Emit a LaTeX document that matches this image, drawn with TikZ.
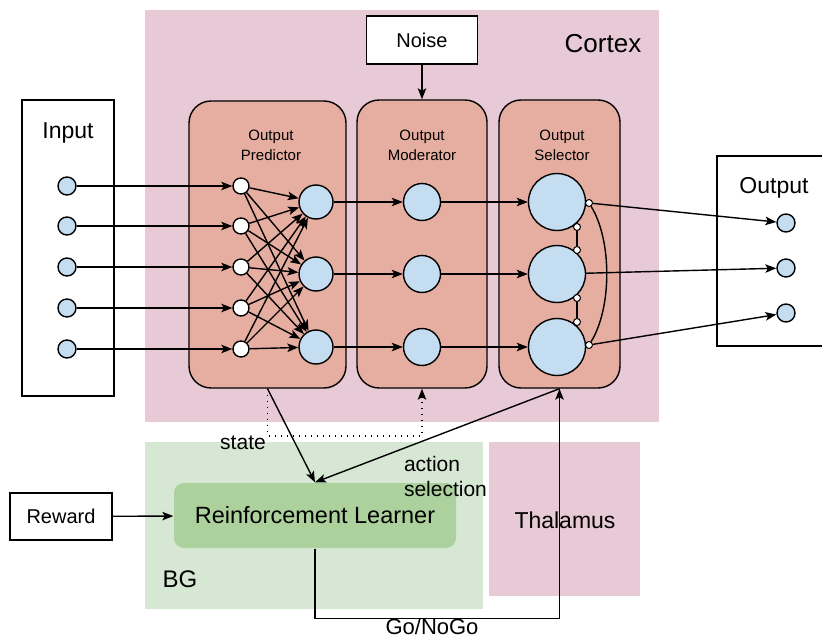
\documentclass[tikz,border=0pt]{standalone}
\usepackage{fontspec}
\setmainfont{Liberation Sans}
\usetikzlibrary{positioning, arrows, arrows.meta, shapes}
\definecolor{cortexpink}{HTML}{E8C9D6}
\definecolor{layersalmon}{HTML}{E6AEA1}
\definecolor{cellblue}{HTML}{C5DDF0}
\definecolor{bggreen}{HTML}{D6E8D4}
\definecolor{learnergreen}{HTML}{ADD19D}
\tikzset{
    >={Stealth[length=11pt, width=8.5pt, inset=2.5pt]}, % bold triangular arrow heads
    txt/.style={font=\fontsize{#1}{#1}\selectfont}, % text size in pixels of the sketch
    io/.style={draw, rectangle, fill=white, inner sep=0pt}, % plain white boxes
    layer/.style={draw, rounded corners=22pt, fill=layersalmon, inner sep=0pt}, % cortical layers
    cell/.style={draw, circle, fill=cellblue, inner sep=0pt, minimum size=#1}, % blue neurons
    relay/.style={draw, circle, fill=white, inner sep=0pt, minimum size=16}, % white input relays
    inhib/.style={draw, circle, fill=white, inner sep=0pt, minimum size=7, line width=1pt}, % inhibitory synapses
    small/.style={font=\fontsize{15}{20}\selectfont, align=center},
}

\begin{document}
\begin{tikzpicture}[x=1pt, y=-1pt, line width=1.4pt, txt=21]
    \useasboundingbox (0,0) rectangle (822,639);

    % brain regions
    \fill[cortexpink] (145,10) rectangle (659,422);
    \fill[bggreen] (145,442) rectangle (483,609);
    \fill[cortexpink] (489,442) rectangle (640,596);
    \node[txt=26] (cortexlbl) at (603,44) {Cortex};
    \node[txt=24] (bglbl) at (180,579) {BG};
    \node[txt=23] (thallbl) at (565,520) {Thalamus};

    % cortical layers
    \node[layer, minimum width=157, minimum height=287] (pred) at (267.5,244.5) {};
    \node[layer, minimum width=130, minimum height=288] (moder) at (422,244) {};
    \node[layer, minimum width=121, minimum height=288] (selec) at (559.5,244) {};
    \node[small] (predlbl) at (271,145) {Output\\Predictor};
    \node[small] (moderlbl) at (422,145) {Output\\Moderator};
    \node[small] (seleclbl) at (562,145) {Output\\Selector};

    \node[io, minimum width=111, minimum height=48, txt=20] (noise) at (422,40) {Noise};
    \draw[->] (noise) -- (moder);

    % input and output boxes
    \node[io, minimum width=92, minimum height=296] (inbox) at (68,248) {};
    \node[txt=23] (inlbl) at (68,133) {Input};
    \node[io, minimum width=130, minimum height=190] (outbox) at (782,251) {};
    \node[txt=23] (outlbl) at (774,188) {Output};

    % neurons
    \foreach \i/\y in {1/186, 2/226, 3/267, 4/308, 5/349} {
        \node[cell=18] (in\i) at (67,\y) {};
        \node[relay] (rl\i) at (241,\y) {};
        \draw[->] (in\i) -- (rl\i);
    }
    \foreach \j/\y in {1/202, 2/274, 3/347} {
        \node[cell=34] (p\j) at (316,\y) {};
        \node[cell=37] (m\j) at (422,\y) {};
        \node[cell=57] (s\j) at (557,\y) {};
        \draw[->] (p\j) -- (m\j);
        \draw[->] (m\j) -- (s\j);
    }
    \foreach \i in {1,...,5}
        \foreach \j in {1,2,3}
            \draw[->] (rl\i) -- (p\j);
    \foreach \k/\y in {1/223, 2/268, 3/313}
        \node[cell=18] (o\k) at (786,\y) {};

    % lateral inhibition in the selector
    \node[inhib] (ia) at (589,203) {};
    \node[inhib] (ib) at (577,227) {};
    \node[inhib] (ic) at (577,250) {};
    \node[inhib] (id) at (577,298) {};
    \node[inhib] (ie) at (577,322) {};
    \node[inhib] (ig) at (589,345) {};
    \draw (ib) -- (ic);
    \draw (id) -- (ie);
    \draw (ia) .. controls (612,240) and (612,308) .. (ig);
    \draw[->] (ia) -- (o1);
    \draw[->] (s2) -- (o2);
    \draw[->] (ig) -- (o3);

    % basal ganglia loop
    \node[io, minimum width=102, minimum height=47, txt=20] (reward) at (61,516.5) {Reward};
    \node[fill=learnergreen, rounded corners=10pt, minimum width=282, minimum height=65, txt=23.5] (learner) at (315,515.5) {Reinforcement Learner};
    \draw[->] (reward) -- (learner);
    \draw[->] (pred.south) -- (learner.north);
    \draw[->] (selec.south) -- (learner.north);
    \draw[->, line width=1.6pt, dash pattern=on 1.6pt off 4.4pt] (pred.south) -- ++(0,47) -| (moder.south);
    \draw[->] (learner.south) -- ++(0,70) -| (selec.south);
    \node (statelbl) at (243,443) {state};
    \node[font=\fontsize{21}{25}\selectfont, align=left, anchor=west] (actlbl) at (400,476) {action\\selection};
    \node[txt=22] (golbl) at (432,627) {Go/NoGo};
\end{tikzpicture}
\end{document}
